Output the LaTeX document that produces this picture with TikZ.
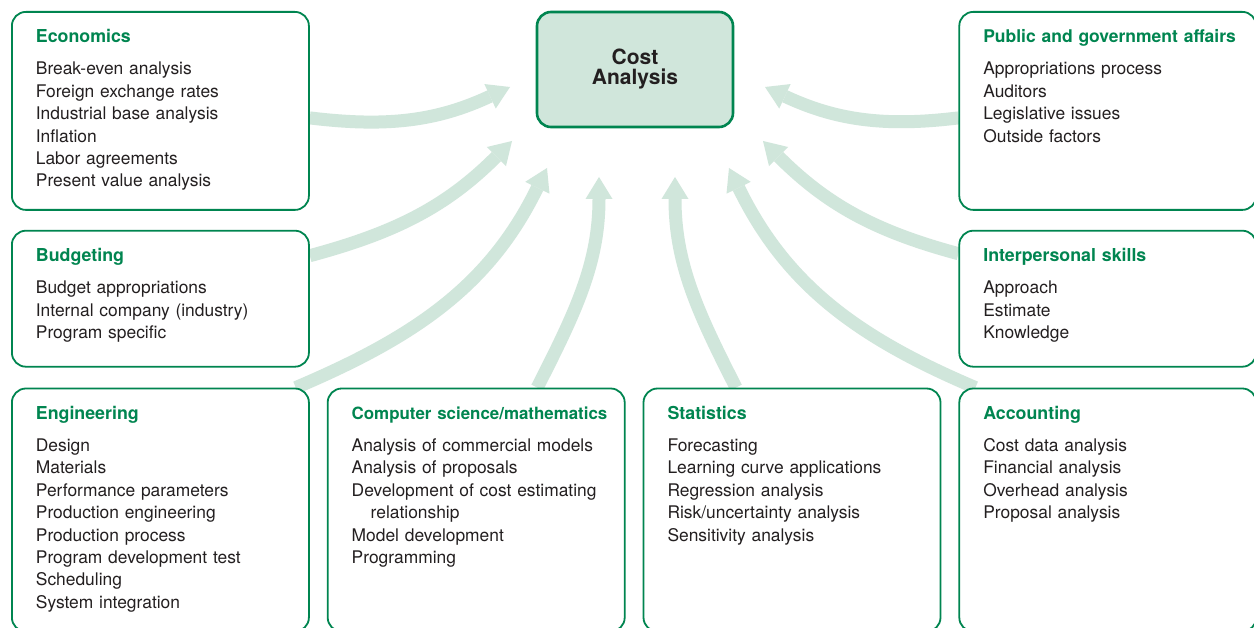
\documentclass[tikz,border=0pt]{standalone}
\usepackage{fontspec}
\setmainfont{TeX Gyre Heros}
\usetikzlibrary{positioning, calc}
\usetikzlibrary{arrows.meta}
\definecolor{cagreen}{RGB}{0,133,80}
\definecolor{cafill}{RGB}{208,230,219}
\definecolor{catext}{RGB}{35,31,32}
\pgfdeclarelayer{background}
\pgfsetlayers{background,main}
\tikzstyle{card}=[rectangle, rounded corners=14pt, draw=cagreen, line width=1.8pt,
fill=white, text=catext, minimum width=297pt, text width=249pt, inner xsep=24pt,
inner ysep=0pt, align=left, text height=31pt, font=\fontsize{17.4}{22.4}\selectfont]
\tikzstyle{costbox}=[rectangle, rounded corners=14pt, draw=cagreen, line width=2.6pt,
fill=cafill, text=catext, minimum width=196pt, minimum height=115pt, align=center,
font=\fontsize{21}{20}\selectfont\bfseries]
\tikzstyle{flowarrow}=[-{Triangle[length=22pt,width=27pt,line width=0pt]}, color=cafill,
line width=13pt]
\newcommand{\cardtitle}[2][17.8]{\mbox{\color{cagreen}\fontsize{#1}{22.4}\selectfont\bfseries #2}}

\begin{document}
\begin{tikzpicture}[x=1pt, y=1pt]
        \useasboundingbox (0,0) rectangle (1254,-628);
        \clip (0,0) rectangle (1254,-628);

        % left column and bottom row
        \node[card, text depth=167pt, anchor=north west] (eco) at (11,-11) {
            \cardtitle{Economics}\\[9.6pt]
            Break-even analysis\\
            Foreign exchange rates\\
            Industrial base analysis\\
            Inflation\\
            Labor agreements\\
            Present value analysis};
        \node[card, text depth=105pt, below=19pt of eco] (bud) {
            \cardtitle{Budgeting}\\[9.6pt]
            Budget appropriations\\
            Internal company (industry)\\
            Program specific};
        \node[card, text depth=212pt, below=20pt of bud] (eng) {
            \cardtitle{Engineering}\\[9.6pt]
            Design\\
            Materials\\
            Performance parameters\\
            Production engineering\\
            Production process\\
            Program development test\\
            Scheduling\\
            System integration};
        \node[card, text depth=212pt, right=17pt of eng] (cs) {
            \cardtitle[16.9]{Computer science/mathematics}\\[9.6pt]
            Analysis of commercial models\\
            Analysis of proposals\\
            Development of cost estimating\\
            \hspace*{19pt}relationship\\
            Model development\\
            Programming};
        \node[card, text depth=212pt, right=17pt of cs] (stats) {
            \cardtitle{Statistics}\\[9.6pt]
            Forecasting\\
            Learning curve applications\\
            Regression analysis\\
            Risk/uncertainty analysis\\
            Sensitivity analysis};
        \node[card, text depth=212pt, right=17pt of stats] (acc) {
            \cardtitle{Accounting}\\[9.6pt]
            Cost data analysis\\
            Financial analysis\\
            Overhead analysis\\
            Proposal analysis};

        % right column
        \node[card, text depth=105pt, above=20pt of acc] (inter) {
            \cardtitle{Interpersonal skills}\\[9.6pt]
            Approach\\
            Estimate\\
            Knowledge};
        \node[card, text depth=167pt, above=19pt of inter] (pub) {
            \cardtitle[17.5]{Public and government affairs}\\[9.6pt]
            Appropriations process\\
            Auditors\\
            Legislative issues\\
            Outside factors};

        \node[costbox] (cost) at (635,-69.5) {Cost\\Analysis};

        % arrow tips round the cost box
        \coordinate (teco) at (510,-87);
        \coordinate (tbud) at (512,-141);
        \coordinate (teng) at (547,-168);
        \coordinate (tcs) at (599,-177);
        \coordinate (tstats) at (675,-177);
        \coordinate (tacc) at (729,-168);
        \coordinate (tinter) at (763,-141);
        \coordinate (tpub) at (765,-87);

        \begin{pgfonlayer}{background}
        \fill[white] (0,0) rectangle (1254,-628);
        \path[flowarrow]
            ([yshift=-7pt]eco.east) edge[out=-7, in=205] (teco)
            ([yshift=43pt]bud.east) edge[out=15, in=225] (tbud)
            ([xshift=-14pt]eng.north east) edge[out=23, in=244] (teng)
            ([xshift=61pt]cs.north) edge[out=63, in=270] (tcs)
            ([xshift=-56pt]stats.north) edge[out=117, in=270] (tstats)
            ([xshift=17pt]acc.north west) edge[out=157, in=296] (tacc)
            ([yshift=45pt]inter.west) edge[out=165, in=315] (tinter)
            ([yshift=-7pt]pub.west) edge[out=187, in=-25] (tpub);
        \end{pgfonlayer}
\end{tikzpicture}
\end{document}
